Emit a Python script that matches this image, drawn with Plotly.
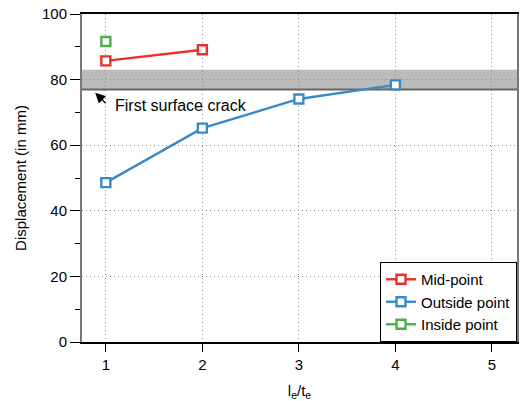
import plotly.graph_objects as go

# Displacement vs. le/te for three measurement points
mid_x = [1, 2]
mid_y = [85.7, 89.1]
out_x = [1, 2, 3, 4]
out_y = [48.6, 65.2, 74.1, 78.4]
in_x = [1]
in_y = [91.6]
crack_band = [77.0, 83.0]

FONT = "Liberation Sans, Arial, Helvetica, sans-serif"
FS = 15

fig = go.Figure()

def add_series(x, y, name, color):
    fig.add_trace(go.Scatter(
        x=x, y=y, name=name, mode="lines+markers",
        line=dict(color=color, width=2.4),
        marker=dict(symbol="square", size=9, color="white",
                    line=dict(color=color, width=2.4)),
    ))

add_series(mid_x, mid_y, "Mid-point", "#e8312a")
add_series(out_x, out_y, "Outside point", "#3a8ac6")
add_series(in_x, in_y, "Inside point", "#4cb04a")

# first surface crack band
fig.add_shape(type="rect", xref="x domain", yref="y", x0=0, x1=1,
              y0=crack_band[0], y1=crack_band[1],
              fillcolor="#bbbbbb", line=dict(width=0), layer="below")
fig.add_shape(type="line", xref="x domain", yref="y", x0=0, x1=1,
              y0=crack_band[0], y1=crack_band[0],
              line=dict(color="#666666", width=2), layer="below")

fig.add_annotation(x=0.89, y=76.0, ax=12, ay=12, text="",
                   showarrow=True, arrowhead=2, arrowsize=1.7,
                   arrowwidth=1.2, arrowcolor="black")
fig.add_annotation(x=1.07, y=72.0, text="First surface crack",
                   showarrow=False, xanchor="left", yanchor="middle",
                   font=dict(family=FONT, size=16, color="black"))

fig.update_xaxes(
    range=[0.753, 5.26], tickvals=[1, 2, 3, 4, 5],
    showline=True, linecolor="black", linewidth=1.5, mirror=True,
    ticks="outside", ticklen=8, tickwidth=1.3, tickcolor="black",
    showgrid=True, gridcolor="#8a8a8a", griddash="1px,3px", gridwidth=1,
    zeroline=False,
    title=dict(text="l<sub>e</sub>/t<sub>e</sub>", standoff=14,
               font=dict(family=FONT, size=FS, color="black")),
    tickfont=dict(family=FONT, size=FS, color="black"),
)
fig.update_yaxes(
    range=[0, 100], tickvals=[0, 20, 40, 60, 80, 100],
    showline=True, linecolor="#777777", linewidth=2, mirror=True,
    ticks="outside", ticklen=10, tickwidth=1.3, tickcolor="black",
    minor=dict(tickvals=[10, 30, 50, 70, 90], ticks="outside", ticklen=5,
               tickcolor="black", showgrid=False),
    showgrid=True, gridcolor="#8a8a8a", griddash="1px,3px", gridwidth=1,
    zeroline=False,
    title=dict(text="Displacement (in mm)", standoff=12,
               font=dict(family=FONT, size=FS, color="black")),
    tickfont=dict(family=FONT, size=FS, color="black"),
)

fig.update_layout(
    width=521, height=401,
    margin=dict(l=82, r=2, t=14, b=59),
    plot_bgcolor="white", paper_bgcolor="white",
    font=dict(family=FONT, size=FS, color="black"),
    legend=dict(x=1, y=0, xanchor="right", yanchor="bottom",
                bgcolor="white", bordercolor="black", borderwidth=1,
                font=dict(family=FONT, size=FS, color="black"),
                tracegroupgap=0, itemsizing="trace", itemwidth=30),
    showlegend=True,
)

fig.write_html("out.html")
